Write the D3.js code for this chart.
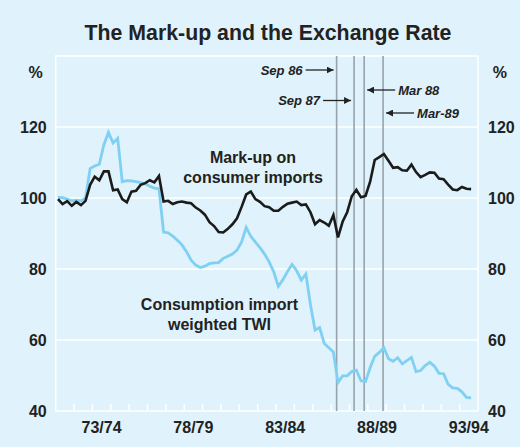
<!DOCTYPE html>
<html>
<head>
<meta charset="utf-8">
<script src="https://cdn.jsdelivr.net/npm/d3@7"></script>
<style>
  html, body { margin: 0; padding: 0; background: #e0f2fb; }
  svg { display: block; font-family: "Liberation Sans", Arial, Helvetica, sans-serif; }
</style>
</head>
<body>
<div id="chart"></div>
<script>
// quarterly, Sep quarter 1971 .. Mar quarter 1994 (plotted mid-quarter)
const firstQuarter = 1971.625;

const markUp = [
  99.7, 98.3, 99.1, 97.8, 98.9, 98.0, 99.2, 103.7, 106.0, 105.0,
  107.5, 107.5, 102.2, 102.4, 99.7, 98.8, 101.8, 102.0, 103.7, 104.2,
  105.0, 104.4, 106.2, 99.0, 99.2, 98.3, 98.8, 99.0, 98.7, 98.5,
  97.3, 96.5, 95.3, 93.2, 92.1, 90.4, 90.3, 91.3, 92.6, 94.3,
  97.5, 101.0, 101.8, 99.7, 98.9, 97.7, 97.4, 96.4, 96.4, 97.5,
  98.4, 98.7, 99.0, 98.0, 98.2, 96.0, 92.6, 93.8, 93.1, 92.2,
  95.2, 88.9, 93.3, 96.0, 100.5, 102.3, 100.2, 100.6, 104.6, 110.7,
  111.5, 112.4, 110.5, 108.5, 108.7, 107.8, 107.7, 109.4, 107.3, 105.9,
  106.5, 107.2, 107.1, 105.5, 105.3, 103.8, 102.4, 102.2, 103.1, 102.6,
  102.5
];

const importTwi = [
  100.2, 100.1, 99.7, 99.2, 99.4, 99.2, 100.0, 108.3, 109.0, 109.5,
  115.0, 118.5, 115.5, 116.8, 104.6, 104.9, 104.8, 104.6, 104.3, 104.0,
  103.3, 102.8, 102.6, 90.4, 90.2, 89.3, 88.1, 86.8, 84.9, 82.5,
  81.1, 80.4, 80.8, 81.5, 81.7, 81.8, 83.0, 83.6, 84.2, 85.3,
  87.6, 91.7, 89.2, 87.6, 86.0, 84.2, 82.0, 79.2, 75.1, 77.0,
  79.3, 81.3, 79.5, 76.9, 78.6, 70.0, 62.8, 63.5, 59.0, 57.8,
  56.6, 48.0, 49.9, 49.9, 51.1, 51.5, 48.5, 48.3, 52.2, 55.4,
  56.5, 57.8, 54.7, 54.0, 55.0, 53.3, 54.2, 55.1, 51.1, 51.4,
  52.8, 53.7, 52.6, 50.6, 50.5, 47.5, 46.5, 46.4, 45.4, 43.8,
  43.7
];

// financial years (July to June) labelled on the axis
const yearLabels = ["73/74", "78/79", "83/84", "88/89", "93/94"];
const yTicks = [40, 60, 80, 100, 120];

const events = ["Sep 86", "Sep 87", "Mar 88", "Mar-89"];
const eventDates = [1986.8, 1987.75, 1988.3, 1989.33];

const svgWidth = 520;
const svgHeight = 447;
const margin = { top: 56, right: 42, bottom: 36, left: 55.7 };
const width = svgWidth - margin.left - margin.right;
const height = svgHeight - margin.top - margin.bottom;

const svg = d3
  .select("#chart")
  .append("svg")
  .attr("width", svgWidth)
  .attr("height", svgHeight);

svg.append("rect")
  .attr("width", svgWidth)
  .attr("height", svgHeight)
  .attr("fill", "#e0f2fb");

svg.append("text")
  .attr("x", 268)
  .attr("y", 40)
  .attr("text-anchor", "middle")
  .attr("font-size", 21.3)
  .attr("font-weight", "bold")
  .attr("fill", "#222")
  .text("The Mark-up and the Exchange Rate");

const g = svg
  .append("g")
  .attr("transform", `translate(${margin.left},${margin.top})`);

const x = d3.scaleLinear().domain([1971.5, 1994.5]).range([0, width]);
const y = d3.scaleLinear().domain([40, 140]).range([height, 0]);

const dateOf = (i) => firstQuarter + i * 0.25;

// grid
g.selectAll(".grid")
  .data(yTicks.slice(1))
  .enter()
  .append("line")
  .attr("x1", 0)
  .attr("x2", width)
  .attr("y1", (d) => y(d))
  .attr("y2", (d) => y(d))
  .attr("stroke", "#fff")
  .attr("stroke-width", 1.5);

// frame
g.append("rect")
  .attr("width", width)
  .attr("height", height)
  .attr("fill", "none")
  .attr("stroke", "#fff")
  .attr("stroke-width", 1.5);

// year ticks, pointing up from the bottom
g.selectAll(".xtick")
  .data(d3.range(1972.5, 1994, 1))
  .enter()
  .append("line")
  .attr("x1", (d) => x(d))
  .attr("x2", (d) => x(d))
  .attr("y1", height)
  .attr("y2", height - 7)
  .attr("stroke", "#fff")
  .attr("stroke-width", 1.5);

g.selectAll(".xlabel")
  .data(yearLabels)
  .enter()
  .append("text")
  .attr("x", (d) => x(1900 + +d.slice(0, 2) + 1))
  .attr("y", height + 22)
  .attr("text-anchor", "middle")
  .attr("font-size", 16)
  .attr("font-weight", "bold")
  .attr("fill", "#222")
  .text((d) => d);

// y labels both sides
[[-9, "end"], [width + 10, "start"]].forEach(([lx, anchor]) => {
  g.selectAll(null)
    .data(yTicks)
    .enter()
    .append("text")
    .attr("x", lx)
    .attr("y", (d) => y(d) + 6)
    .attr("text-anchor", anchor)
    .attr("font-size", 16)
    .attr("font-weight", "bold")
    .attr("fill", "#222")
    .text((d) => d);
  g.append("text")
    .attr("x", anchor === "end" ? -20 : width + 22)
    .attr("y", 22)
    .attr("text-anchor", "middle")
    .attr("font-size", 16)
    .attr("font-weight", "bold")
    .attr("fill", "#222")
    .text("%");
});

// event lines
g.selectAll(".event")
  .data(eventDates)
  .enter()
  .append("line")
  .attr("x1", (d) => x(d))
  .attr("x2", (d) => x(d))
  .attr("y1", 0)
  .attr("y2", height)
  .attr("stroke", "#98a3ab")
  .attr("stroke-width", 1.6);

svg.append("defs")
  .append("marker")
  .attr("id", "head")
  .attr("viewBox", "0 0 10 10")
  .attr("refX", 10)
  .attr("refY", 5)
  .attr("markerWidth", 7)
  .attr("markerHeight", 7)
  .attr("markerUnits", "userSpaceOnUse")
  .attr("orient", "auto")
  .append("path")
  .attr("d", "M0,0L10,5L0,10z")
  .attr("fill", "#222");

// label rows (Sep 86 highest, then Mar 88, Sep 87, Mar-89)
const eventRows = [14, 44.5, 34, 57];
events.forEach((name, i) => {
  const ex = x(eventDates[i]);
  const row = eventRows[i];
  const s = i < 2 ? -1 : 1;
  const near = ex + s * 3;
  const far = ex + s * 31;
  g.append("line")
    .attr("x1", far)
    .attr("x2", near)
    .attr("y1", row)
    .attr("y2", row)
    .attr("stroke", "#222")
    .attr("stroke-width", 1.3)
    .attr("marker-end", "url(#head)");
  g.append("text")
    .attr("x", far + s * 3)
    .attr("y", row + 4.5)
    .attr("text-anchor", s < 0 ? "end" : "start")
    .attr("font-size", 13)
    .attr("font-weight", "bold")
    .attr("font-style", "italic")
    .attr("fill", "#222")
    .text(name);
});

const line = d3
  .line()
  .x((d, i) => x(dateOf(i)))
  .y((d) => y(d));

g.append("path")
  .datum(importTwi)
  .attr("fill", "none")
  .attr("stroke", "#7fd0f2")
  .attr("stroke-width", 2.8)
  .attr("d", line);

g.append("path")
  .datum(markUp)
  .attr("fill", "none")
  .attr("stroke", "#1b1b1b")
  .attr("stroke-width", 2.6)
  .attr("d", line);

// series labels
const seriesLabels = [
  { lines: ["Mark-up on", "consumer imports"], cx: 253, top: 163 },
  { lines: ["Consumption import", "weighted TWI"], cx: 219.5, top: 310 },
];
seriesLabels.forEach((s) => {
  s.lines.forEach((t, k) => {
    svg.append("text")
      .attr("x", s.cx)
      .attr("y", s.top + k * 20)
      .attr("text-anchor", "middle")
      .attr("font-size", 16)
      .attr("font-weight", "bold")
      .attr("fill", "#222")
      .text(t);
  });
});
</script>
</body>
</html>
